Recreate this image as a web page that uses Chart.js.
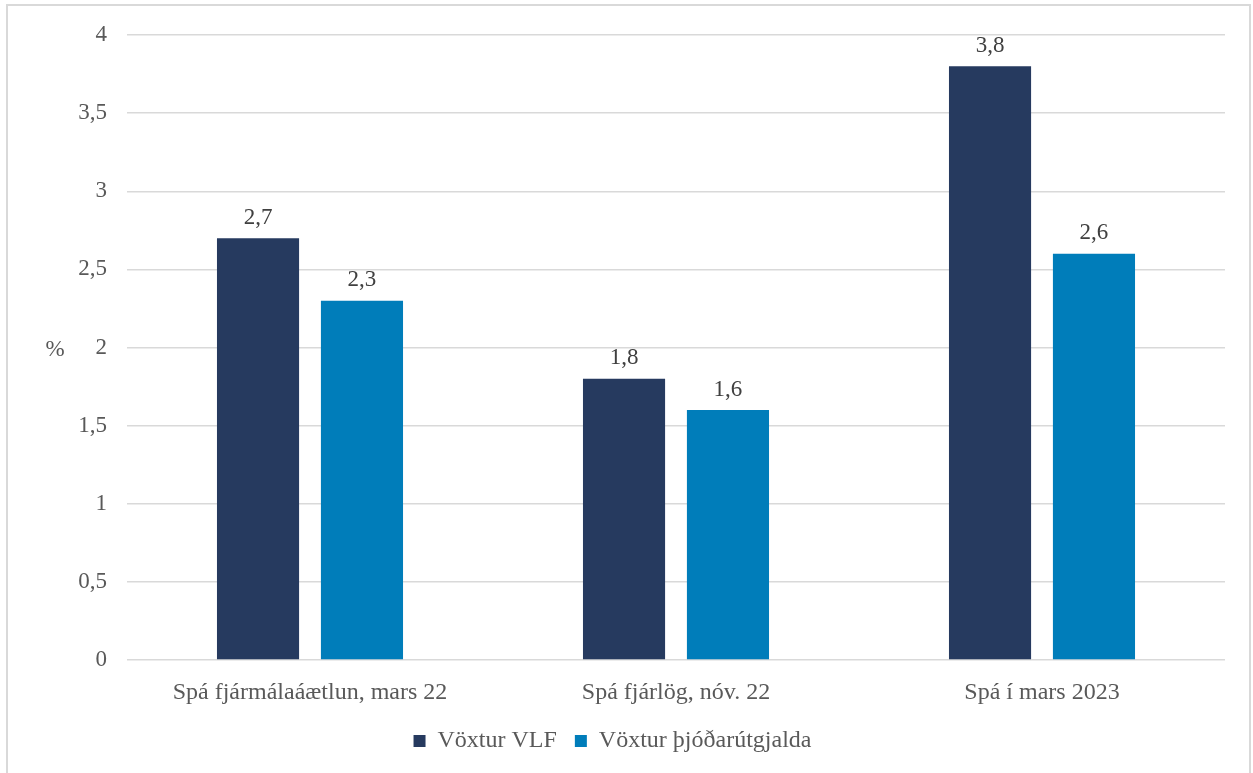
<!DOCTYPE html>
<html>
<head>
<meta charset="utf-8">
<script src="https://cdn.jsdelivr.net/npm/chart.js@4/dist/chart.umd.min.js"></script>
<style>
  html, body { margin: 0; padding: 0; background: #fff; }
  #frame {
    position: absolute; left: 6px; top: 4px; width: 1245px; height: 800px;
    border: 2px solid #d9d9d9; box-sizing: border-box;
  }
  #wrap { position: absolute; left: 0; top: 0; width: 1253px; height: 773px; }
</style>
</head>
<body>
<div id="frame"></div>
<div id="wrap"><canvas id="chart"></canvas></div>
<script>
const categories = ["Spá fjármálaáætlun, mars 22", "Spá fjárlög, nóv. 22", "Spá í mars 2023"];
const seriesNames = ["Vöxtur VLF", "Vöxtur þjóðarútgjalda"];
const vlf = [2.7, 1.8, 3.8];
const thjodarutgjold = [2.3, 1.6, 2.6];
const yTicks = [0, 0.5, 1, 1.5, 2, 2.5, 3, 3.5, 4];

const FONT = "'Liberation Serif', 'Times New Roman', serif";
const fmt = v => String(v).replace(".", ",");

// Value labels above bars + the "%" axis title
const labelPlugin = {
    id: "valueLabels",
    afterDatasetsDraw(chart) {
        const ctx = chart.ctx;
        ctx.save();
        ctx.font = "23px " + FONT;
        ctx.fillStyle = "#404040";
        ctx.textAlign = "center";
        ctx.textBaseline = "bottom";
        chart.data.datasets.forEach((ds, i) => {
            chart.getDatasetMeta(i).data.forEach((bar, j) => {
                ctx.fillText(fmt(ds.data[j]), bar.x, bar.y - 9);
            });
        });
        // y-axis title drawn horizontally
        ctx.fillStyle = "#595959";
        ctx.textBaseline = "middle";
        ctx.fillText("%", 55, 350);
        ctx.restore();
    }
};

new Chart(document.getElementById("chart"), {
    type: "bar",
    data: {
        labels: categories,
        datasets: [
            { label: seriesNames[0], data: vlf, backgroundColor: "#263A5F" },
            { label: seriesNames[1], data: thjodarutgjold, backgroundColor: "#007DBA" }
        ]
    },
    options: {
        responsive: true,
        maintainAspectRatio: false,
        animation: false,
        categoryPercentage: 0.568,
        barPercentage: 0.79,
        layout: { padding: { left: 0, right: 28, top: 35, bottom: 10 } },
        plugins: {
            legend: {
                position: "bottom",
                labels: {
                    font: { family: FONT, size: 24 },
                    color: "#595959",
                    boxWidth: 12,
                    boxHeight: 12,
                    padding: 18
                }
            },
            tooltip: { enabled: false }
        },
        scales: {
            x: {
                afterFit: scale => { scale.height = 51; },
                grid: { display: false, drawTicks: false },
                border: { display: false },
                ticks: { font: { family: FONT, size: 24 }, color: "#595959", padding: 18 }
            },
            y: {
                min: 0,
                max: 4,
                afterBuildTicks: scale => { scale.ticks = yTicks.map(v => ({ value: v })); },
                afterFit: scale => { scale.width = 127; },
                grid: { color: "#d9d9d9", lineWidth: 1.5, drawTicks: false },
                border: { display: false },
                ticks: {
                    font: { family: FONT, size: 23 },
                    color: "#595959",
                    padding: 20,
                    callback: v => fmt(v)
                }
            }
        }
    },
    plugins: [labelPlugin]
});
</script>
</body>
</html>
